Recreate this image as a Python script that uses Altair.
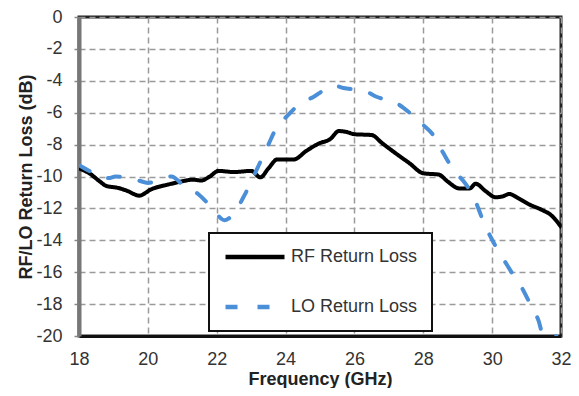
import altair as alt
import pandas as pd

series_names = ["RF Return Loss", "LO Return Loss"]
series_colors = ["#000000", "#4a8fd8"]

rf_freq = [18.0, 18.3, 18.6, 18.8, 19.1, 19.4, 19.75, 20.1, 20.6, 21.0, 21.3, 21.55, 21.8,
           22.05, 22.5, 23.0, 23.27, 23.5, 23.76, 24.24, 24.6, 24.95, 25.3, 25.55, 25.75,
           26.0, 26.5, 26.8, 27.2, 27.6, 28.0, 28.45, 28.7, 29.05, 29.35, 29.52, 29.8,
           30.1, 30.3, 30.5, 30.75, 31.05, 31.45, 31.7, 32.0]
rf_loss = [-9.5, -9.8, -10.3, -10.6, -10.7, -10.9, -11.2, -10.8, -10.5, -10.3, -10.2, -10.25, -10.0,
           -9.65, -9.72, -9.65, -10.05, -9.5, -8.93, -8.93, -8.4, -7.95, -7.65, -7.15, -7.2,
           -7.35, -7.4, -7.9, -8.55, -9.17, -9.8, -9.88, -10.3, -10.75, -10.75, -10.45, -10.9,
           -11.3, -11.25, -11.1, -11.35, -11.72, -12.1, -12.4, -13.15]

lo_freq = [18.0, 18.3, 18.6, 18.86, 19.06, 19.4, 19.73, 20.0, 20.35, 20.69, 20.98, 21.46, 21.84,
           22.23, 22.5, 22.8, 23.09, 23.47, 23.76, 24.05, 24.43, 24.82, 25.1, 25.4, 25.68,
           26.26, 26.64, 27.22, 27.6, 27.99, 28.27, 28.56, 28.85, 29.24, 29.43, 29.81, 30.1,
           30.39, 30.68, 30.87, 31.16, 31.35, 31.5, 31.7, 31.9, 32.0]
lo_loss = [-9.3, -9.65, -10.0, -10.1, -10.0, -10.1, -10.25, -10.4, -10.2, -10.0, -10.45, -11.1, -11.9,
           -12.74, -12.3, -11.2, -9.9, -8.15, -6.85, -6.2, -5.4, -5.0, -4.6, -4.3, -4.45,
           -4.6, -5.0, -5.4, -6.0, -6.75, -7.35, -8.45, -9.5, -10.5, -11.15, -13.15, -14.37,
           -15.4, -16.4, -17.0, -18.25, -19.05, -20.2, -20.6, -19.8, -19.2]

x_ticks = list(range(18, 33, 2))
y_ticks = list(range(-20, 1, 2))

rf_df = pd.DataFrame({"freq": rf_freq, "loss": rf_loss, "series": series_names[0],
                      "idx": range(len(rf_freq))})
lo_df = pd.DataFrame({"freq": lo_freq, "loss": lo_loss, "series": series_names[1],
                      "idx": range(len(lo_freq))})
df = pd.concat([rf_df, lo_df], ignore_index=True)

FONT = "Liberation Sans"

legend = alt.Legend(
    title=None,
    orient="none",
    legendX=130,
    legendY=216,
    padding=14,
    clipHeight=20,
    rowPadding=30,
    symbolType="stroke",
    symbolSize=3481,
    symbolStrokeWidth=4.5,
    symbolOffset=0,
    labelOffset=4,
    labelFontSize=18,
    labelFont=FONT,
    labelColor="#333333",
    strokeColor="#111111",
    fillColor="white",
)

base = alt.Chart(df).mark_line(
    clip=True, strokeCap="round", strokeJoin="round", strokeWidth=4, interpolate="monotone"
).encode(
    x=alt.X("freq:Q",
            scale=alt.Scale(domain=[18, 32], nice=False, zero=False),
            axis=alt.Axis(values=x_ticks, title="Frequency (GHz)", format="d",
                          labelFlush=False, tickSize=0, labelPadding=14, titlePadding=2)),
    y=alt.Y("loss:Q",
            scale=alt.Scale(domain=[-20, 0], nice=False, zero=False),
            axis=alt.Axis(values=y_ticks, title="RF/LO Return Loss (dB)",
                          labelExpr="toString(datum.value)",
                          tickSize=5, labelPadding=12, titlePadding=0,
                          domainColor="#777777", domainWidth=4, tickColor="#888888",
                          tickWidth=1.5)),
    color=alt.Color("series:N", scale=alt.Scale(domain=series_names, range=series_colors),
                    legend=legend),
    strokeDash=alt.StrokeDash("series:N",
                              scale=alt.Scale(domain=series_names, range=[[1, 0], [12, 20]]),
                              legend=legend),
    order="idx:Q",
)

rf_layer = base.transform_filter(alt.datum.series == series_names[0])
lo_layer = base.transform_filter(alt.datum.series == series_names[1])

chart = alt.layer(rf_layer, lo_layer).properties(
    width=482,
    height=319,
    autosize="none",
    padding={"left": 71, "top": 9, "right": 10, "bottom": 52},
).configure_view(
    stroke="#222222", strokeWidth=3
).configure_axis(
    labelFont=FONT, titleFont=FONT,
    labelFontSize=18, titleFontSize=18,
    labelColor="#333333", titleColor="#222222",
    titleFontWeight="bold",
    grid=True, gridColor="#9a9a9a", gridDash=[6, 4], gridWidth=1.5,
    domainColor="#111111", domainWidth=3,
).configure_legend(
    strokeWidth=2
)

chart.save("out.html", embed_options={"renderer": "svg", "actions": False})
